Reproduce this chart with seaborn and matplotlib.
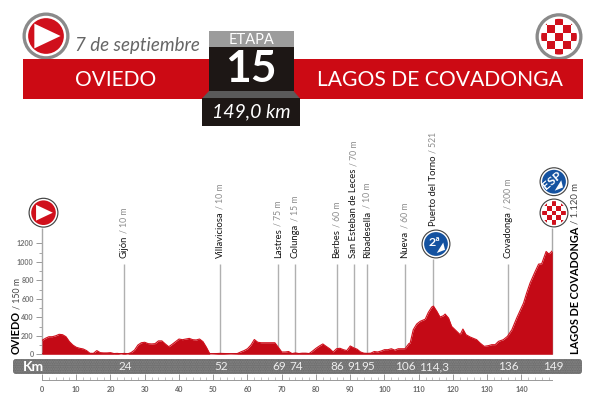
import numpy as np
import pandas as pd
import matplotlib
matplotlib.use('Agg')
import matplotlib.pyplot as plt
import seaborn as sns
from matplotlib import font_manager
from matplotlib.patches import Circle, FancyBboxPatch, Polygon, Rectangle
from matplotlib.ticker import MultipleLocator

# Profile
km_profile = [0, 1, 2, 3, 4, 5, 6, 7, 8, 9, 10, 11, 12, 13, 14, 15, 16, 17, 18, 19, 20, 21, 22, 23, 24,
              25, 26, 27, 28, 29, 30, 31, 32, 33, 34, 35, 36, 37, 38, 39, 40, 41, 42, 43, 44, 45, 46, 47, 48, 49,
              50, 52, 55, 57, 58, 59, 60, 61, 62, 63, 64, 65, 66, 67, 68, 69, 70, 71, 72, 73, 74,
              75, 76, 77, 78, 79, 80, 81, 82, 83, 84, 85, 86, 87, 88, 89, 90, 91, 92, 93, 94, 95,
              96, 97, 98, 99, 100, 101, 102, 103, 104, 105, 106, 107.1, 107.5, 108.4, 109.4, 110.4, 111.9, 112.8,
              113.8, 114.3, 115.3, 116.2, 117.2, 117.7, 118.7, 119.6, 121.1, 122.1, 122.9, 123.8, 125,
              126.9, 127.9, 129.1, 130.4, 131.3, 132.3, 133.3, 134.7, 135.9, 137.2, 138.6, 140.6, 141.5,
              142.5, 144, 145, 145.9, 147.2, 147.9, 148.4, 149]
elev_profile = [150, 173, 190, 190, 200, 216, 212, 190, 137, 100, 76, 65, 58, 40, 11, 10, 40, 18, 15, 15, 18, 8, 10, 5, 10,
                5, 18, 45, 100, 125, 130, 115, 112, 115, 145, 145, 112, 82, 108, 137, 165, 158, 165, 172, 158, 155, 165, 137, 76, 5,
                6, 10, 6, 8, 25, 40, 60, 100, 160, 130, 125, 125, 125, 125, 125, 75, 25, 25, 30, 8, 15,
                8, 12, 12, 8, 35, 65, 90, 112, 85, 60, 25, 60, 65, 50, 40, 90, 70, 55, 25, 12, 10,
                12, 30, 25, 35, 50, 50, 60, 45, 60, 60, 60, 115, 122, 266, 327, 356, 380, 453,
                511, 521, 464, 403, 417, 435, 392, 302, 248, 212, 273, 212, 187,
                158, 122, 86, 94, 104, 104, 140, 158, 194, 266, 392, 554, 662,
                770, 896, 975, 979, 1112, 1087, 1095, 1120]

town_km = [24, 52, 69, 74, 86, 91, 95, 106, 114.3, 136]
town_names = ['Gijón', 'Villaviciosa', 'Lastres', 'Colunga', 'Berbes', 'San Esteban de Leces',
              'Ribadesella', 'Nueva', 'Puerto del Torno', 'Covadonga']
town_heights = ['10 m', '10 m', '75 m', '15 m', '60 m', '70 m', '10 m', '60 m', '521', '200 m']
bar_km = [24, 52, 69, 74, 86, 91, 95, 106, 114.3, 136, 149]
bar_labels = ['24', '52', '69', '74', '86', '91', '95', '106', '114,3', '136', '149']
y_ticks = [0, 200, 400, 600, 800, 1000, 1200]
x_ticks = list(range(0, 150, 10))

RED = '#cc0a14'

sns.set_theme(style='white')
plt.rcParams['font.family'] = ['Lato', 'DejaVu Sans']

# Narrow face for the vertical labels when it is there
try:
    font_manager.findfont('Liberation Sans Narrow', fallback_to_default=False)
    LABEL_FONT = 'Liberation Sans Narrow'
    LABEL_SIZE = 8.3
except ValueError:
    LABEL_FONT = 'Lato'
    LABEL_SIZE = 6.8

W, H = 600, 411
fig = plt.figure(figsize=(6, 4.11), dpi=100, facecolor='white')

# Pixel-space layer for the header and the badges
deco = fig.add_axes([0, 0, 1, 1], zorder=1)
deco.set_xlim(0, W)
deco.set_ylim(H, 0)
deco.axis('off')


def px_axes(left, right, top, bottom, zorder):
    return fig.add_axes([left / W, 1 - bottom / H, (right - left) / W, (bottom - top) / H], zorder=zorder)


def badge(x, y, r, fill, ring='#8a8a8a', z=5, white=0.86, inner=0.76):
    deco.add_patch(Circle((x, y), r, fc=ring, ec='none', zorder=z))
    deco.add_patch(Circle((x, y), r * white, fc='white', ec='none', zorder=z + 0.1))
    deco.add_patch(Circle((x, y), r * inner, fc=fill, ec='none', zorder=z + 0.2))


def start_badge(x, y, r, z=5, **kw):
    badge(x, y, r, '#d0101c', z=z, **kw)
    s = r * 0.62
    deco.add_patch(Polygon([(x - s * 0.8, y - s * 0.85), (x + s, y), (x - s * 0.8, y + s * 0.85)],
                           fc='white', ec='none', zorder=z + 0.3))


def finish_badge(x, y, r, z=5, **kw):
    badge(x, y, r, 'white', z=z, **kw)
    clip = Circle((x, y), r * kw.get('inner', 0.76), transform=deco.transData)
    s = r * 0.34
    for i in range(-3, 4):
        for j in range(-3, 4):
            if (i + j) % 2 == 0:
                p = Rectangle((x + (i - 0.5) * s, y + (j - 0.5) * s), s, s, fc='#d0101c', ec='none', zorder=z + 0.3)
                deco.add_patch(p)
                p.set_clip_path(clip)


def climb_badge(x, y, r, label, angle, z=5, **kw):
    badge(x, y, r, '#1452a0', z=z, **kw)
    deco.text(x - r * 0.1, y - r * 0.08, label, color='white', fontsize=r * 0.62, fontweight='bold',
              ha='center', va='center', rotation=angle, zorder=z + 0.3)
    deco.add_patch(Polygon([(x + r * 0.05, y + r * 0.62), (x + r * 0.5, y - r * 0.1), (x + r * 0.62, y + r * 0.4)],
                           fc='white', ec='none', zorder=z + 0.3))


# Header
start_badge(46, 36, 23.5, z=1)
finish_badge(559, 36.7, 23.5, z=1)
deco.add_patch(Rectangle((23, 59.5), 559.5, 40, fc=RED, ec='none', zorder=2))
deco.add_patch(Rectangle((209, 31.5), 84.5, 16, fc='#9c9c9c', ec='none', zorder=3))
deco.add_patch(Rectangle((209, 47), 84.5, 44, fc='#1d1715', ec='none', zorder=3))
deco.add_patch(Polygon([(209, 91), (293.5, 91), (300, 98.5), (202, 98.5)], fc='#5a5a5a', ec='none', zorder=3))
deco.add_patch(Rectangle((202, 98), 98, 28, fc='#1d1715', ec='none', zorder=3))
deco.text(137.5, 46, '7 de septiembre', color='#666666', fontsize=13.5, fontstyle='italic', ha='center', va='center', zorder=4)
deco.text(251, 39.5, 'ETAPA', color='white', fontsize=10.5, ha='center', va='center', zorder=4)
deco.text(251, 68.5, '15', color='white', fontsize=32, fontweight='bold', ha='center', va='center', zorder=4)
deco.text(251, 112, '149,0 km', color='white', fontsize=14, fontstyle='italic', ha='center', va='center', zorder=4)
deco.text(116, 79.5, 'OVIEDO', color='white', fontsize=15, ha='center', va='center', zorder=4)
deco.text(439.5, 79.5, 'LAGOS DE COVADONGA', color='white', fontsize=15.2, ha='center', va='center', zorder=4)

# Km band
deco.add_patch(FancyBboxPatch((16, 362), 563, 9, boxstyle='round,pad=3', fc='#6e6e6e', ec='#858585', lw=0,
                              hatch='.......', zorder=2))

# Elevation profile
ax = px_axes(42, 552.3, 243.3, 354.3, zorder=3)
ax.patch.set_alpha(0)
profile = pd.DataFrame({'km': km_profile, 'elev': elev_profile})
ax.vlines(town_km, 0, [1030 if k == 114.3 else 976 for k in town_km], color='#b0b0b0', lw=1, zorder=1)
ax.vlines([0, 149], 0, 1365, color='#a8a8a8', lw=1, zorder=1, clip_on=False)
ax.fill_between(profile['km'], 0, profile['elev'], color='#c40a16', lw=0, zorder=2)
sns.lineplot(data=profile, x='km', y='elev', color='#d0101c', lw=0.8, ax=ax, zorder=3)
ax.axhline(0, color='#c40a16', lw=1.2, zorder=3)
ax.set_xlim(0, 149)
ax.set_ylim(0, 1200)
ax.set_xlabel('')
ax.set_ylabel('')
sns.despine(ax=ax, top=True, right=True, bottom=True, left=True)
ax.set_xticks([])
ax.set_yticks(y_ticks)
ax.yaxis.set_minor_locator(MultipleLocator(100))
ax.tick_params(axis='y', which='major', left=True, length=4, width=0.7, color='#999999', pad=2,
               labelsize=5.2, labelcolor='#777777')
ax.tick_params(axis='y', which='minor', left=True, length=2, width=0.6, color='#999999')
for lab in ax.get_yticklabels():
    lab.set_fontweight('bold')

# Km axis under the band
km_ax = px_axes(42, 552.3, 376, 380, zorder=3)
km_ax.patch.set_alpha(0)
km_ax.set_xlim(0, 149)
km_ax.set_yticks([])
sns.despine(ax=km_ax, top=True, left=True, right=True)
km_ax.spines['bottom'].set_color('#999999')
km_ax.spines['bottom'].set_linewidth(0.7)
km_ax.set_xticks(x_ticks)
km_ax.xaxis.set_minor_locator(MultipleLocator(2))
km_ax.tick_params(axis='x', which='major', bottom=True, direction='in', length=4, width=0.7, color='#999999',
                  pad=4, labelsize=5.2, labelcolor='#666666')
km_ax.tick_params(axis='x', which='minor', bottom=True, direction='in', length=2, width=0.5, color='#aaaaaa')
for lab in km_ax.get_xticklabels():
    lab.set_fontweight('bold')

# Band labels
band_y = -132
ax.text(-2.4, band_y, 'Km', color='white', fontsize=10, fontweight='bold', ha='center', va='center', zorder=6)
for k, lab in zip(bar_km, bar_labels):
    ax.text(k + 0.2, band_y, lab, color='#eeeeee', fontsize=8.5, family=LABEL_FONT, ha='center', va='center', zorder=6)

fig.canvas.draw()
renderer = fig.canvas.get_renderer()


def text_len(t):
    ys = deco.transData.inverted().transform(t.get_window_extent(renderer))[:, 1]
    return ys.max() - ys.min()


def vlabel(x, y_bottom, name, rest, size, rest_size=None, name_len=None, rest_len=None,
           name_color='#151515', weight='normal', rest_color='#8a8a8a'):
    t = deco.text(x, y_bottom, name, rotation=90, ha='center', va='bottom', fontsize=size, family=LABEL_FONT,
                  color=name_color, fontweight=weight, zorder=6)
    if name_len:
        t.set_fontsize(size * name_len / text_len(t))
    r = deco.text(x, y_bottom - text_len(t) - 2.5, '/ ' + rest, rotation=90, ha='center', va='bottom',
                  fontsize=rest_size or size * 0.92, family=LABEL_FONT, color=rest_color, zorder=6)
    if rest_len:
        r.set_fontsize(r.get_fontsize() * rest_len / text_len(r))


def km_to_px(k):
    return 42 + k * (552.3 - 42) / 149


for k, n, h in zip(town_km, town_names, town_heights):
    vlabel(km_to_px(k), 226 if k == 114.3 else 258, n, h, LABEL_SIZE)
vlabel(16.5, 354, 'OVIEDO', '150 m', 10, name_len=43, rest_len=31, name_color='black', weight='bold', rest_color='#444444')
vlabel(575.5, 354, 'LAGOS DE COVADONGA', '1.120 m', 10, name_len=127, rest_len=41, name_color='black', weight='bold', rest_color='#444444')

# Profile badges
small = dict(ring='#444444', white=0.92, inner=0.82)
start_badge(43.5, 212.7, 15, z=5, **small)
finish_badge(554, 213, 14.5, z=5, **small)
climb_badge(554, 181.7, 14.5, 'ESP', 40, z=5, **small)
climb_badge(436, 244, 14.5, '2ª', 0, z=5, **small)

plt.savefig('out.png', dpi=100)
